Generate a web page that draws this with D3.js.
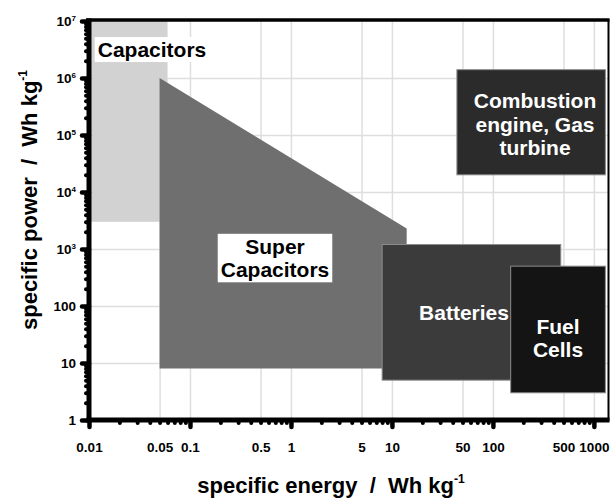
<!DOCTYPE html>
<html><head><meta charset="utf-8">
<script src="https://cdn.jsdelivr.net/npm/d3@7"></script>
<style>
body{margin:0;background:#fff}
svg{display:block}
text{font-family:"Liberation Sans",Arial,sans-serif;font-weight:bold;white-space:pre}
</style>
</head><body>
<svg id="chart" width="614" height="498"></svg>
<script>
// ---- data ----
const regionNames = ["Capacitors", "Super Capacitors", "Batteries", "Fuel Cells", "Combustion engine, Gas turbine"];
const regionLabelLines = [["Capacitors"], ["Super", "Capacitors"], ["Batteries"], ["Fuel", "Cells"], ["Combustion", "engine, Gas", "turbine"]];
const energyMin = [0.01, 0.05, 8, 150, 44];      // Wh/kg
const energyMax = [0.06, 14, 470, 1300, 1300];
const powerMin  = [3000, 8, 5, 3, 20000];       // W/kg
const powerMax  = [1e7, 1e6, 1200, 500, 1.4e6];
const superCapPowerAtMaxEnergy = 2300;          // slanted upper edge of Super Capacitors
const xTickLabels = [0.01, 0.05, 0.1, 0.5, 1, 5, 10, 50, 100, 500, 1000];
const xMajorTicks = [0.01, 0.1, 1, 10, 100, 1000];
const xGridValues = [0.05, 0.1, 0.5, 1, 5, 10, 50, 100, 500, 1000];
const yTickValues = [1, 10, 100, 1e3, 1e4, 1e5, 1e6, 1e7];
const yGridValues = [10, 100, 1e3, 1e4, 1e5, 1e6];

// ---- styles ----
const fills = ["#d2d2d2", "#6f6f6f", "#3b3b3b", "#141414", "#2b2b2b"];
const strokes = ["none", "none", "#8c8c8c", "#8c8c8c", "#8c8c8c"];
const labelColors = ["#000", "#000", "#fff", "#fff", "#fff"];
const labelBoxed = [true, true, false, false, false];

const svg = d3.select("#chart");
const x = d3.scaleLog().domain([0.01, 1380]).range([89, 608]);
const y = d3.scaleLog().domain([1, 1e7]).range([420, 21]);

// minor tick values
const minorX = [], minorY = [];
[0.01, 0.1, 1, 10, 100].forEach(d => { for (let k = 2; k <= 9; k++) minorX.push(+(k * d).toPrecision(3)); });
[1, 10, 100, 1e3, 1e4, 1e5, 1e6].forEach(d => { for (let k = 2; k <= 9; k++) minorY.push(k * d); });

// ---- grid ----
const grid = svg.append("g");
grid.append("g").attr("transform", "translate(0,420)")
  .call(d3.axisBottom(x).tickValues(xGridValues).tickSize(-399).tickFormat(""))
  .call(g => g.select(".domain").remove())
  .selectAll("line").attr("stroke", "#dedede").attr("stroke-width", 1.5);
grid.append("g").attr("transform", "translate(89,0)")
  .call(d3.axisLeft(y).tickValues(yGridValues).tickSize(-519).tickFormat(""))
  .call(g => g.select(".domain").remove())
  .selectAll("line").attr("stroke", "#dedede").attr("stroke-width", 1.5);

// ---- regions ----
const regions = regionNames.map((n, i) => ({ name: n, i }));
const shapes = svg.append("g");
regions.forEach(r => {
  const i = r.i;
  if (r.name === "Super Capacitors") {
    const pts = [[energyMin[i], powerMax[i]], [energyMax[i], superCapPowerAtMaxEnergy], [energyMax[i], powerMin[i]], [energyMin[i], powerMin[i]]];
    shapes.append("path")
      .attr("d", d3.line().x(d => x(d[0])).y(d => y(d[1]))(pts) + "Z")
      .attr("fill", fills[i]).attr("stroke", strokes[i]);
  } else {
    shapes.append("rect")
      .attr("x", x(energyMin[i])).attr("y", y(powerMax[i]))
      .attr("width", x(energyMax[i]) - x(energyMin[i]))
      .attr("height", y(powerMin[i]) - y(powerMax[i]))
      .attr("fill", fills[i]).attr("stroke", strokes[i]).attr("stroke-width", 1);
  }
});

// ---- labels ----
const labelAnchors = [
  { cx: 152, cy: 49.5 },
  { cx: 275, cy: 258 },
  { cx: 464, cy: 312 },
  { cx: 558, cy: 338 },
  { cx: 535, cy: 124 }
];
const labels = svg.append("g");
regions.forEach(r => {
  const i = r.i, a = labelAnchors[i], lines = regionLabelLines[i];
  const lh = 23.5;
  const g = labels.append("g");
  const t = g.append("text")
    .attr("text-anchor", "middle").attr("font-size", 21)
    .attr("fill", labelColors[i]);
  lines.forEach((ln, k) => {
    t.append("tspan").attr("x", a.cx)
      .attr("y", a.cy + (k - (lines.length - 1) / 2) * lh)
      .attr("dy", "0.36em").text(ln);
  });
  if (labelBoxed[i]) {
    const bb = t.node().getBBox();
    g.insert("rect", "text")
      .attr("x", bb.x - 3).attr("y", bb.y - 1)
      .attr("width", bb.width + 6).attr("height", bb.height + 2)
      .attr("fill", "#fff");
  }
});

// ---- frame ----
svg.append("line").attr("x1", 86).attr("x2", 609.5).attr("y1", 20).attr("y2", 20)
  .attr("stroke", "#000").attr("stroke-width", 3.5);
svg.append("line").attr("x1", 608.5).attr("x2", 608.5).attr("y1", 19).attr("y2", 421)
  .attr("stroke", "#000").attr("stroke-width", 2);

// ---- axes ----
function styleTicks(g, w) {
  g.select(".domain").remove();
  g.selectAll(".tick line").attr("stroke", "#000").attr("stroke-width", w).attr("stroke-linecap", "round");
}
const xb = svg.append("g").attr("transform", "translate(0,420)");
xb.append("g").call(d3.axisBottom(x).tickValues(minorX).tickSize(3).tickFormat("")).call(g => styleTicks(g, 4));
xb.append("g").call(d3.axisBottom(x).tickValues(xMajorTicks).tickSize(7).tickFormat("")).call(g => styleTicks(g, 4.5));
xb.append("g").call(d3.axisBottom(x).tickValues(xTickLabels).tickSize(0).tickPadding(22)
    .tickFormat(d => String(d)))
  .call(g => g.select(".domain").remove())
  .selectAll("text").attr("font-size", 13.5).attr("font-family", '"Liberation Sans",Arial,sans-serif').attr("font-weight", "bold").attr("fill", "#000");
const yl = svg.append("g").attr("transform", "translate(89,0)");
yl.append("g").call(d3.axisLeft(y).tickValues(minorY).tickSize(3).tickFormat("")).call(g => styleTicks(g, 4));
yl.append("g").call(d3.axisLeft(y).tickValues(yTickValues).tickSize(7).tickFormat("")).call(g => styleTicks(g, 4.5));
yl.append("g").call(d3.axisLeft(y).tickValues(yTickValues).tickSize(0).tickPadding(13).tickFormat(""))
  .call(g => g.select(".domain").remove())
  .selectAll(".tick text").each(function (d) {
    const t = d3.select(this)
      .attr("font-size", 13.5).attr("font-family", '"Liberation Sans",Arial,sans-serif')
      .attr("font-weight", "bold").attr("fill", "#000");
    if (d >= 1000) {
      t.append("tspan").text("10");
      t.append("tspan").attr("font-size", 8).attr("dy", "-0.55em").text(String(Math.round(Math.log10(d))));
    } else {
      t.text(String(d));
    }
  });
svg.append("line").attr("x1", 89).attr("x2", 89).attr("y1", 18.5).attr("y2", 422.5)
  .attr("stroke", "#000").attr("stroke-width", 5);
svg.append("line").attr("x1", 86.5).attr("x2", 609.5).attr("y1", 420).attr("y2", 420)
  .attr("stroke", "#000").attr("stroke-width", 5);

// ---- axis titles ----
const xt = svg.append("text").attr("x", 331).attr("y", 493).attr("text-anchor", "middle")
  .attr("font-size", 22).attr("fill", "#000");
xt.append("tspan").text("specific energy  /  Wh kg");
xt.append("tspan").attr("font-size", 12).attr("dy", "-0.85em").text("-1");

const yt = svg.append("text").attr("transform", "translate(37,200) rotate(-90)")
  .attr("text-anchor", "middle").attr("font-size", 22).attr("fill", "#000");
yt.append("tspan").text("specific power  /  Wh kg");
yt.append("tspan").attr("font-size", 12).attr("dy", "-0.85em").text("-1");
</script>
</body></html>
